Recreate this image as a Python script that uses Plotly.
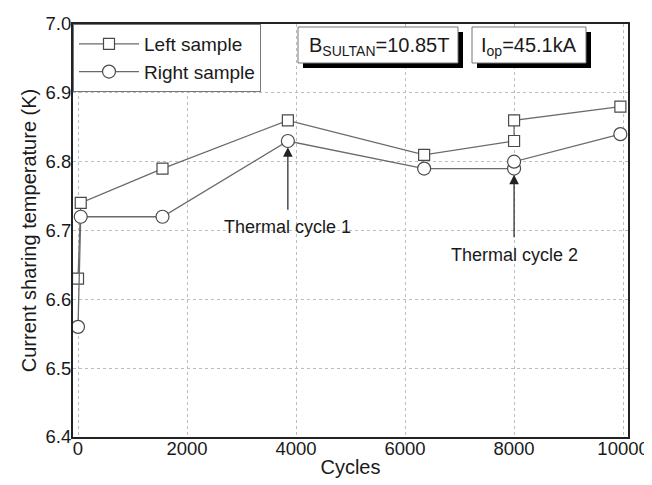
import plotly.graph_objects as go

# ---- data ----
cycles = [0, 50, 1550, 3850, 6350, 8000, 8000, 9950]
tcs_left = [6.63, 6.74, 6.79, 6.86, 6.81, 6.83, 6.86, 6.88]
tcs_right = [6.56, 6.72, 6.72, 6.83, 6.79, 6.79, 6.80, 6.84]
series_names = ["Left sample", "Right sample"]

x_ticks = [0, 2000, 4000, 6000, 8000, 10000]
y_ticks = [6.4, 6.5, 6.6, 6.7, 6.8, 6.9, 7.0]

# annotations: (x, arrow head value, text)
thermal = [
    (3850, 6.821, "Thermal cycle 1"),
    (8000, 6.781, "Thermal cycle 2"),
]

FONT = "Liberation Sans, Arial, Helvetica, sans-serif"
TXT = "#1a1a1a"
LINE = "#6a6a6a"
MK = "#4a4a4a"

# page offset (browser body margin)
OFF = 8
FW, FH = 652 - OFF, 485 - OFF
# plot area in page pixels
L, T, W, H = 73, 24, 555, 413

fig = go.Figure()
fig.add_trace(go.Scatter(
    x=cycles, y=tcs_left, name=series_names[0], mode="lines+markers",
    line=dict(color=LINE, width=1.3),
    marker=dict(symbol="square", size=11, color="white", line=dict(color=MK, width=1.2)),
))
fig.add_trace(go.Scatter(
    x=cycles, y=tcs_right, name=series_names[1], mode="lines+markers",
    line=dict(color=LINE, width=1.3),
    marker=dict(symbol="circle", size=13, color="white", line=dict(color=MK, width=1.2)),
))

annotations = []
for x, head, txt in thermal:
    annotations.append(dict(
        x=x, y=head, xref="x", yref="y", ax=0, ay=80,
        text=txt, showarrow=True, arrowhead=2, arrowsize=1.6, arrowwidth=1.2,
        arrowcolor="#222", borderpad=7,
        font=dict(family=FONT, size=18, color=TXT),
    ))

def px(xp):
    return (xp - L) / W
def py(yp):
    return (T + H - yp) / H

shapes = []
boxes = [
    (298, 27, 458, 63, 307, "B<sub>SULTAN</sub>=10.85T"),
    (472, 27, 586, 63, 479, "I<sub>op</sub>=45.1kA"),
]
for x0, y0, x1, y1, tx, txt in boxes:
    shapes.append(dict(type="rect", xref="paper", yref="paper",
                       x0=px(x0 + 5), x1=px(x1 + 5), y0=py(y1 + 5), y1=py(y0 + 5),
                       fillcolor="black", line=dict(width=0), layer="above"))
    shapes.append(dict(type="rect", xref="paper", yref="paper",
                       x0=px(x0), x1=px(x1), y0=py(y1), y1=py(y0),
                       fillcolor="white", line=dict(color="#777", width=1), layer="above"))
    annotations.append(dict(
        x=px(tx), y=py((y0 + y1) / 2 + 1), xref="paper", yref="paper",
        xanchor="left", yanchor="middle",
        text=txt, showarrow=False, font=dict(family=FONT, size=20, color=TXT),
    ))

axis_common = dict(
    showline=True, mirror=True, linecolor="#222", linewidth=2,
    showgrid=True, gridcolor="#bdbdbd", griddash="dot", gridwidth=1,
    zeroline=False, ticks="", automargin=False,
    tickfont=dict(family=FONT, size=18.5, color=TXT),
)

fig.update_layout(
    width=FW, height=FH,
    margin=dict(l=L - OFF, r=FW - (L - OFF) - W, t=T - OFF, b=FH - (T - OFF) - H),
    paper_bgcolor="white", plot_bgcolor="white",
    font=dict(family=FONT, color=TXT),
    xaxis=dict(range=[-92, 10090], tickvals=x_ticks, tickformat="d",
               ticklabelstandoff=-6,
               title=dict(text="Cycles", font=dict(family=FONT, size=20, color=TXT), standoff=2),
               **axis_common),
    yaxis=dict(range=[6.4, 7.0], tickvals=y_ticks, tickformat=".1f",
               ticklabelstandoff=-4,
               title=dict(text="Current sharing temperature (K)", font=dict(family=FONT, size=20, color=TXT), standoff=4),
               **axis_common),
    legend=dict(x=0, y=1, xanchor="left", yanchor="top",
                bgcolor="white", bordercolor="#777", borderwidth=1,
                font=dict(family=FONT, size=19, color=TXT),
                itemwidth=60, tracegroupgap=0),
    showlegend=True,
    annotations=annotations,
    shapes=shapes,
)

fig.write_html("out.html")
